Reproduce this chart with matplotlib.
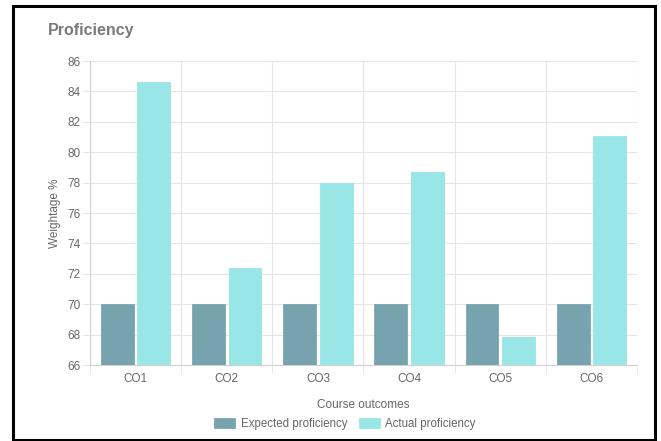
import numpy as np
import matplotlib.pyplot as plt
from matplotlib.patches import Rectangle

plt.rcParams['font.family'] = ['Liberation Sans', 'DejaVu Sans']

# Datos
cursos = ['CO1', 'CO2', 'CO3', 'CO4', 'CO5', 'CO6']
esperado = [70, 70, 70, 70, 70, 70]
real = [84.6, 72.4, 78.0, 78.7, 67.85, 81.07]
y_ticks = [66, 68, 70, 72, 74, 76, 78, 80, 82, 84, 86]

col_esp = '#76a3ad'
col_real = '#99e6e6'
gris_txt = '#666666'
gris_grid = '#e5e5e5'

fig = plt.figure(figsize=(6.61, 4.41), dpi=100)
ax = fig.add_axes([90 / 661, 1 - 365 / 441, 547 / 661, 304 / 441])

x = np.arange(len(cursos))
ax.bar(x - 0.2, np.array(esperado) - 66, 0.36, bottom=66, color=col_esp,
       edgecolor='#72a0aa', linewidth=0.5, label='Expected proficiency', zorder=3)
ax.bar(x + 0.2, np.array(real) - 66, 0.36, bottom=66, color=col_real,
       edgecolor='#94e2e2', linewidth=0.5, label='Actual proficiency', zorder=3)

ax.set_xlim(-0.5, len(cursos) - 0.5)
ax.set_ylim(66, 86)
ax.set_yticks(y_ticks)
ax.set_xticks(x)
ax.set_xticklabels(cursos)
ax.set_xticks(np.arange(len(cursos) + 1) - 0.5, minor=True)

ax.grid(True, axis='y', which='major', color=gris_grid, linewidth=0.8, zorder=0)
ax.grid(True, axis='x', which='minor', color=gris_grid, linewidth=0.8, zorder=0)
ax.tick_params(axis='y', which='major', length=5, color=gris_grid, labelcolor=gris_txt,
               labelsize=8.5, pad=2)
ax.tick_params(axis='x', which='major', length=0, labelcolor=gris_txt, labelsize=8.5, pad=6)
ax.tick_params(axis='x', which='minor', length=6, color=gris_grid)

for lado in ['top', 'right']:
    ax.spines[lado].set_visible(False)
ax.spines['left'].set_color('#d0d0d0')
ax.spines['bottom'].set_color('#d0d0d0')

ax.set_ylabel('Weightage %', color=gris_txt, fontsize=8.5, labelpad=4)
ax.set_xlabel('Course outcomes', color=gris_txt, fontsize=8.5, labelpad=10)

fig.text(48 / 661, 1 - 30 / 441, 'Proficiency', fontsize=11.5, fontweight='bold',
         color='#7a7a7a', va='center', ha='left')

leg = fig.legend(loc='center', bbox_to_anchor=(345 / 661, 1 - 424 / 441), ncol=2,
                 frameon=False, fontsize=8.3, handlelength=1.8, handleheight=1.0,
                 columnspacing=1.0, handletextpad=0.5)
for t in leg.get_texts():
    t.set_color(gris_txt)

fig.patches.append(Rectangle((13 / 661, 1 - 440 / 441), 642 / 661, 434 / 441,
                             transform=fig.transFigure, fill=False,
                             edgecolor='black', linewidth=2.2))

fig.savefig('out.png', dpi=100)
